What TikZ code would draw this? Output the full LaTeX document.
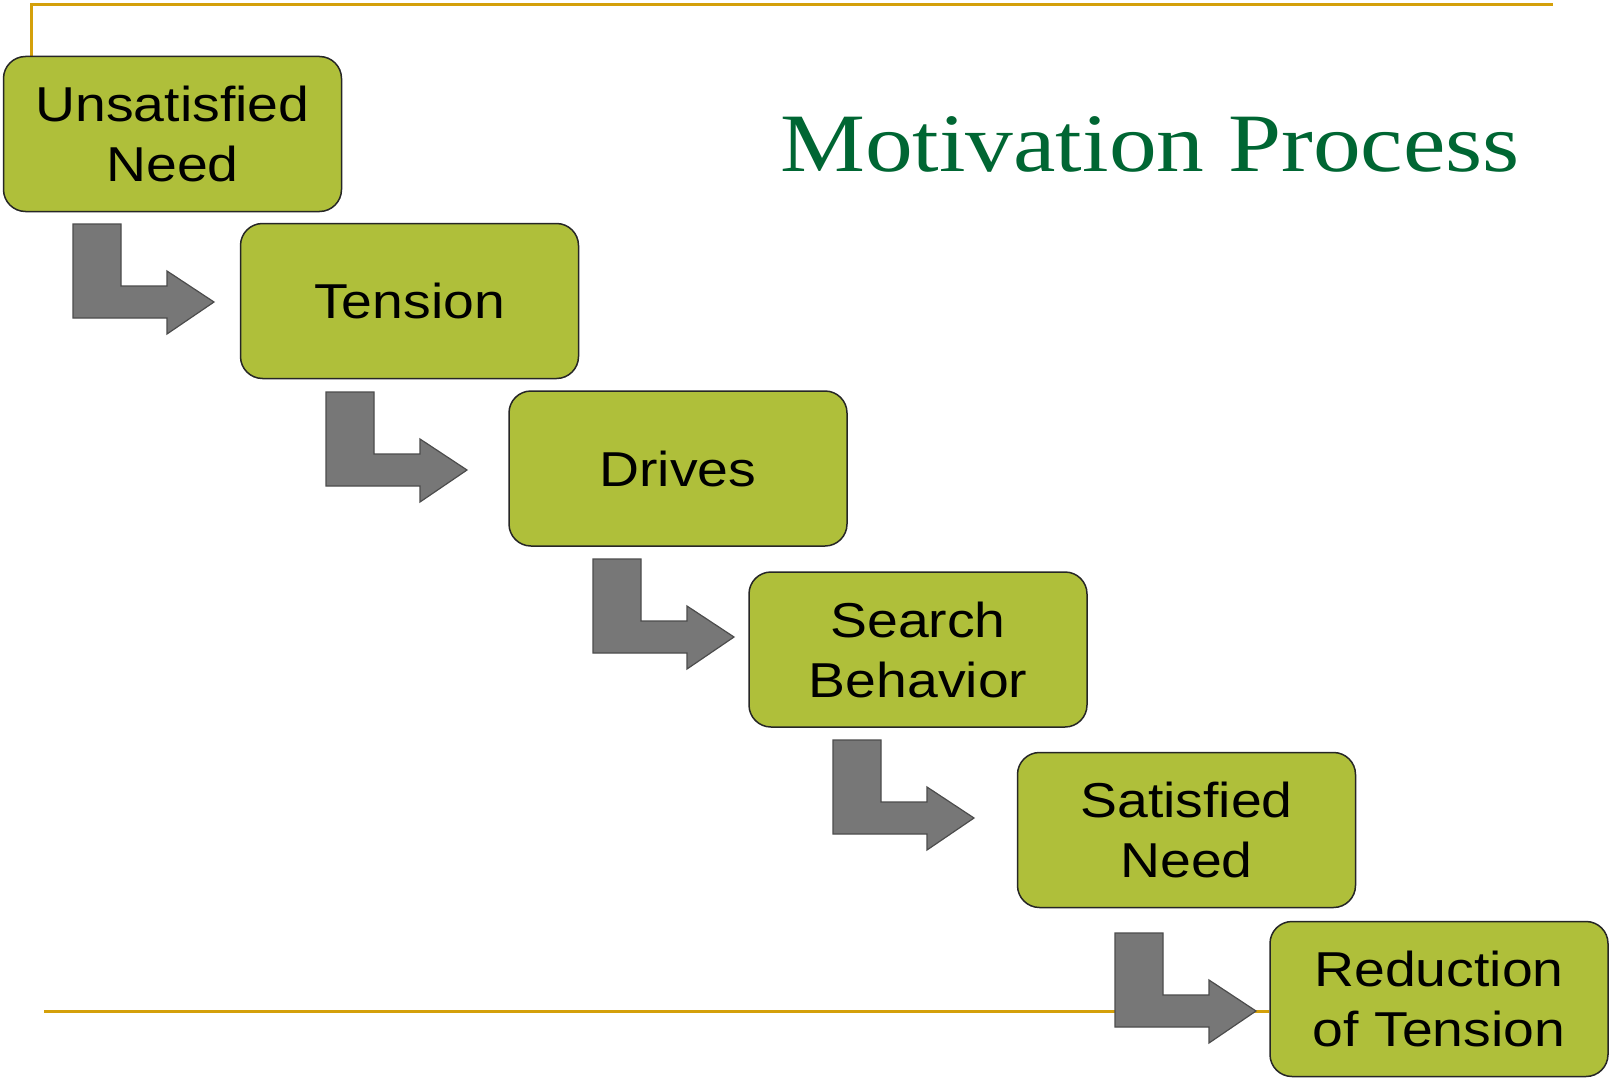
\documentclass[tikz,border=0pt]{standalone}
\usepackage{fontspec}
\usetikzlibrary{backgrounds}
\newfontfamily\boxfont[FakeStretch=1.13]{Liberation Sans}
\newfontfamily\titlefont[FakeStretch=1.15]{Liberation Serif}
\definecolor{boxgreen}{RGB}{175,191,58}
\definecolor{arrowgray}{RGB}{119,119,119}
\definecolor{goldline}{RGB}{212,160,10}
\definecolor{titlegreen}{RGB}{0,102,51}
\tikzset{
  stepbox/.style={draw=black!85, line width=1.5pt, fill=boxgreen, rounded corners=22pt,
    minimum width=338pt, minimum height=155pt, inner sep=0pt, align=center,
    font=\boxfont\fontsize{49}{60}\selectfont, text=black},
  goldrule/.style={draw=goldline, line width=3pt},
  bentarrow/.pic={
    \draw[draw=black!70, line width=1.2pt, fill=arrowgray, line join=miter]
      (0,0) -- (48,0) -- (48,62) -- (94,62) -- (94,47) -- (141,78) -- (94,110) -- (94,94) -- (0,94) -- cycle;
  }
}
\begin{document}
\begin{tikzpicture}[x=1pt,y=-1pt]
\useasboundingbox (0,0) rectangle (1614,1081);
% title
\node[anchor=base west, inner sep=0pt, text=titlegreen, font=\titlefont\fontsize{83}{90}\selectfont] (title) at (780,171) {Motivation Process};
% boxes
\node[stepbox] (b1) at (172.5,134) {Unsatisfied\\Need};
\node[stepbox] (b2) at (409.5,301) {Tension};
\node[stepbox] (b3) at (678,468.5) {Drives};
\node[stepbox] (b4) at (918,649.5) {Search\\Behavior};
\node[stepbox] (b5) at (1186.5,830) {Satisfied\\Need};
\node[stepbox] (b6) at (1439,999) {Reduction\\of Tension};
% gold rules behind everything
\coordinate (tl) at (31,5);
\coordinate (tr) at (1553,5);
\coordinate (bl) at (44,1011);
\begin{scope}[on background layer]
\fill[white] (0,0) rectangle (1614,1081);
\draw[goldrule] (b1.north -| tl) -- (tl) -- (tr);
\draw[goldrule] (bl) -- (b6.west |- bl);
\end{scope}
% bent arrows
\path (73,224) pic {bentarrow};
\path (326,392) pic {bentarrow};
\path (593,559) pic {bentarrow};
\path (833,740) pic {bentarrow};
\path (1115,933) pic {bentarrow};
\end{tikzpicture}
\end{document}
